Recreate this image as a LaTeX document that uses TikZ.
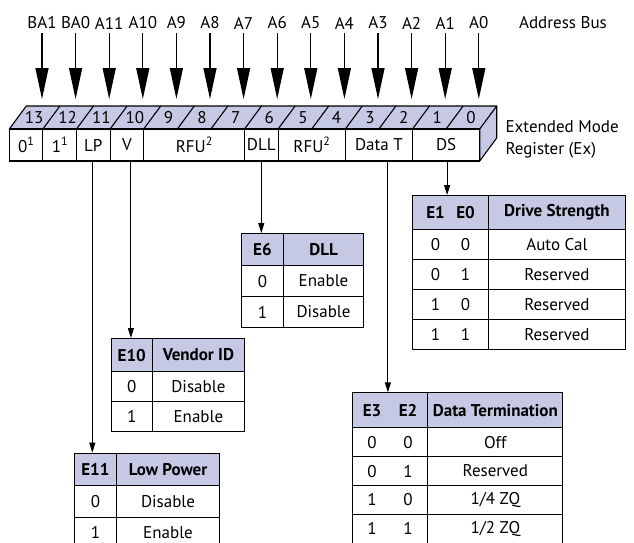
\documentclass[tikz,border=0pt]{standalone}
\usepackage{fontspec}
\setmainfont{PT Sans}
\usetikzlibrary{positioning,matrix,arrows.meta}
\definecolor{hdrblue}{RGB}{197,201,227}
\newcommand\regfont{\fontsize{17}{19}\selectfont}
\newcommand\twobits[3][30pt]{\makebox[#1]{#2}\makebox[#1]{#3}}
\newcommand\fnmark[1]{\raisebox{0.42em}{\fontsize{12}{12}\selectfont#1}}

\begin{document}
\begin{tikzpicture}[
    x=1pt, y=-1pt, line width=1.1pt,
    font=\regfont,
    field/.style={draw, outer sep=0pt, inner sep=0pt, minimum height=32pt, minimum width=33.6pt},
    buswire/.style={-{Triangle[length=31pt,width=13pt]}, line width=1.3pt},
    link/.style={-{Triangle[length=10pt,width=6pt]}, line width=0.9pt},
    tbl/.style={matrix of nodes, anchor=north west, inner sep=0pt, outer sep=0pt,
      row sep=-1.1pt, column sep=-1.1pt,
      nodes={draw, anchor=center, outer sep=0pt, inner sep=0pt, minimum height=#1},
      row 1/.style={nodes={fill=hdrblue, font=\regfont\bfseries}}},
    tbl/.default=30pt
  ]
  \useasboundingbox (0,0) rectangle (634,542);

  % address bus
  \foreach \lab [count=\i from 0] in {BA1,BA0,A11,A10,A9,A8,A7,A6,A5,A4,A3,A2,A1,A0} {
    \node (adr\i) at (42+33.6*\i,23) {\lab};
    \coordinate (tip\i) at (42+33.6*\i,99);
    \draw[buswire] (adr\i) -- (tip\i);
  }
  \node (bus) at (563,23) {Address Bus};

  % register: top and side faces
  \draw[fill=hdrblue, line join=round] (9.3,129) -- ++(17,-23) -- ++(470.4,0) -- ++(0,32)
    -- ++(-17,23) -- ++(0,-32) -- cycle;
  \draw (479.7,129) -- ++(17,-23);
  \foreach \i in {1,...,13}
    \draw (9.3+33.6*\i,129) -- ++(17,-23);
  \foreach \b [count=\i from 0] in {13,12,...,0}
    \node (bit\b) at (9.3+33.6*\i+16.8+8,117.5) {\b};

  % register fields
  \node[field, anchor=north west] (r13) at (9.3,129) {0\fnmark{1}};
  \node[field, right=0pt of r13] (r12) {1\fnmark{1}};
  \node[field, right=0pt of r12] (lp) {LP};
  \node[field, right=0pt of lp] (v) {V};
  \node[field, right=0pt of v, minimum width=100.8pt] (rfuhi) {RFU\fnmark{2}};
  \node[field, right=0pt of rfuhi] (dll) {DLL};
  \node[field, right=0pt of dll, minimum width=67.2pt] (rfulo) {RFU\fnmark{2}};
  \node[field, right=0pt of rfulo, minimum width=67.2pt] (datat) {Data T};
  \node[field, right=0pt of datat, minimum width=67.2pt] (ds) {DS};
  \node[anchor=west, align=left, inner sep=0pt, font=\fontsize{17}{22}\selectfont] (exreg) at (505,139)
    {Extended Mode\\Register (Ex)};

  % tables
  \matrix[tbl=31pt, row 1/.append style={nodes={minimum height=32pt}},
    column 1/.style={nodes={minimum width=41.7pt}},
    column 2/.style={nodes={minimum width=80.6pt}}] (e6) at (241,233)
    {E6 & DLL\\ 0 & Enable\\ 1 & Disable\\};

  \matrix[tbl, row 1/.append style={nodes={minimum height=33pt}},
    column 1/.style={nodes={minimum width=41pt}},
    column 2/.style={nodes={minimum width=92.3pt}}] (e10) at (110.7,338)
    {E10 & Vendor ID\\ 0 & Disable\\ 1 & Enable\\};

  \matrix[tbl, row 1/.append style={nodes={minimum height=32pt}},
    row 2/.style={nodes={minimum height=32pt}},
    column 1/.style={nodes={minimum width=41.7pt}},
    column 2/.style={nodes={minimum width=103.6pt}}] (e11) at (74,452.7)
    {E11 & Low Power\\ 0 & Disable\\ 1 & Enable\\};

  \matrix[tbl, row 1/.append style={nodes={minimum height=34pt}},
    column 1/.style={nodes={minimum width=75.4pt}},
    column 2/.style={nodes={minimum width=137.3pt}}] (dstab) at (412.3,195)
    {\twobits{E1}{E0} & Drive Strength\\
     \twobits{0}{0} & Auto Cal\\
     \twobits{0}{1} & Reserved\\
     \twobits{1}{0} & Reserved\\
     \twobits{1}{1} & Reserved\\};

  \matrix[tbl=28.8pt, row 1/.append style={nodes={minimum height=35pt}},
    column 1/.style={nodes={minimum width=75.6pt}},
    column 2/.style={nodes={minimum width=135pt}}] (dttab) at (351.7,392.3)
    {\twobits[36pt]{E3}{E2} & Data Termination\\
     \twobits[36pt]{0}{0} & Off\\
     \twobits[36pt]{0}{1} & Reserved\\
     \twobits[36pt]{1}{0} & 1/4 ZQ\\
     \twobits[36pt]{1}{1} & 1/2 ZQ\\};

  % field links
  \draw[link] ([xshift=-1pt]lp.south) -- ([xshift=-1pt]lp.south |- e11.north);
  \draw[link] ([xshift=4pt]v.south) -- ([xshift=4pt]v.south |- e10.north);
  \draw[link] (dll.south) -- (dll.south |- e6.north);
  \draw[link] ([xshift=9pt]datat.south) -- ([xshift=9pt]datat.south |- dttab.north);
  \draw[link] ([xshift=1pt]ds.south) -- ([xshift=1pt]ds.south |- dstab.north);
\end{tikzpicture}
\end{document}
